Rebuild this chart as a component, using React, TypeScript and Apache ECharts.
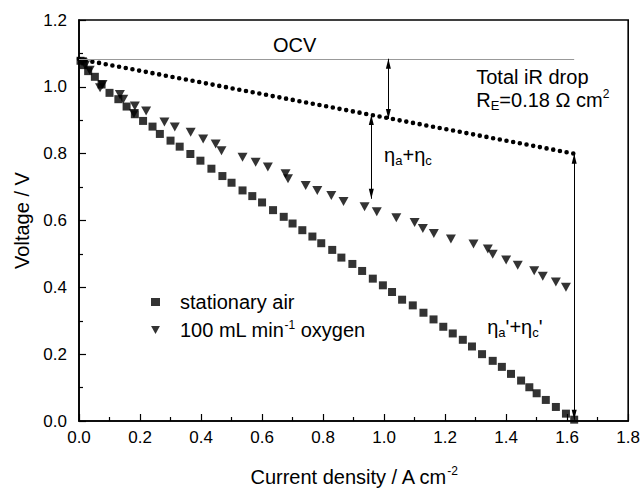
import React, { useEffect, useRef } from "react";
import * as echarts from "echarts";

// Stationary air (squares)
const airCurrent = [0.005, 0.015, 0.03, 0.052, 0.074, 0.1, 0.129, 0.156, 0.183, 0.21, 0.241, 0.265, 0.3, 0.33, 0.365, 0.398, 0.434, 0.47, 0.5, 0.536, 0.568, 0.6, 0.636, 0.671, 0.7, 0.732, 0.765, 0.794, 0.83, 0.86, 0.896, 0.928, 0.963, 0.996, 1.026, 1.059, 1.094, 1.129, 1.162, 1.194, 1.225, 1.258, 1.288, 1.321, 1.356, 1.386, 1.416, 1.449, 1.476, 1.5, 1.53, 1.563, 1.596, 1.623];
const airVoltage = [1.078, 1.065, 1.047, 1.03, 1.007, 0.982, 0.963, 0.941, 0.918, 0.898, 0.881, 0.859, 0.839, 0.821, 0.799, 0.779, 0.755, 0.733, 0.713, 0.69, 0.673, 0.654, 0.631, 0.611, 0.591, 0.571, 0.552, 0.532, 0.512, 0.489, 0.47, 0.449, 0.426, 0.406, 0.386, 0.363, 0.346, 0.324, 0.304, 0.282, 0.262, 0.243, 0.223, 0.2, 0.18, 0.162, 0.141, 0.121, 0.101, 0.083, 0.063, 0.042, 0.022, 0.004];

// 100 mL/min oxygen (down triangles)
const oxyCurrent = [0.01, 0.02, 0.035, 0.069, 0.077, 0.134, 0.145, 0.18, 0.183, 0.22, 0.28, 0.314, 0.366, 0.407, 0.448, 0.467, 0.536, 0.579, 0.619, 0.677, 0.685, 0.743, 0.781, 0.827, 0.867, 0.936, 0.976, 1.04, 1.1, 1.127, 1.163, 1.219, 1.293, 1.34, 1.356, 1.4, 1.438, 1.492, 1.52, 1.563, 1.596];
const oxyVoltage = [1.075, 1.065, 1.05, 0.997, 1.007, 0.977, 0.963, 0.92, 0.943, 0.928, 0.895, 0.88, 0.864, 0.844, 0.829, 0.809, 0.789, 0.774, 0.76, 0.74, 0.725, 0.705, 0.69, 0.675, 0.657, 0.641, 0.626, 0.608, 0.594, 0.576, 0.561, 0.545, 0.53, 0.515, 0.499, 0.482, 0.466, 0.45, 0.433, 0.416, 0.4];

// iR-drop line (dotted) endpoints
const irCurrent = [0, 1.623];
const irVoltage = [1.083, 0.8];

const ocvVoltage = 1.084;
const ocvEnd = 1.623;

// Annotation arrows: [x, yFrom, yTo]
const arrowIR = [1.014, 1.084, 0.904];
const arrowAct = [0.958, 0.916, 0.665];
const arrowAct2 = [1.623, 0.8, 0.004];

const airName = "stationary air";
const oxyName = "100 mL min-1 oxygen";

const FONT = "Arial, 'Liberation Sans', Helvetica, sans-serif";

export default function App() {
  const ref = useRef<HTMLDivElement>(null);
  useEffect(() => {
    document.body.style.margin = "0";
    document.body.style.overflow = "hidden";
    const chart = echarts.init(ref.current!, null, { renderer: "svg" });
    const arrowPair = (a: number[]) => [
      { coord: [a[0], a[1]] },
      { coord: [a[0], a[2]] },
    ];
    const richMain = { fontSize: 20, fontFamily: FONT, color: "#000", lineHeight: 24 };
    const richSub = { fontSize: 13, fontFamily: FONT, color: "#000", lineHeight: 8, verticalAlign: "bottom" };
    const richSup = { fontSize: 12, fontFamily: FONT, color: "#000", lineHeight: 12, verticalAlign: "top" };

    chart.setOption({
      animation: false,
      backgroundColor: "#fff",
      textStyle: { fontFamily: FONT, color: "#000" },
      grid: {
        left: 79, top: 20, right: 14, bottom: 68,
        show: true, borderColor: "#000", borderWidth: 1.6,
      },
      xAxis: {
        type: "value", min: 0, max: 1.8, interval: 0.2,
        name: "{m|Current density / A cm}{s|-2}",
        nameLocation: "middle", nameGap: 44,
        nameTextStyle: { rich: { m: richMain, s: richSup } },
        axisLine: { lineStyle: { color: "#000", width: 1.6 } },
        axisTick: { inside: true, length: 7, lineStyle: { color: "#000", width: 1.2 } },
        minorTick: { show: true, splitNumber: 2, length: 4, lineStyle: { color: "#000", width: 1.2 } },
        axisLabel: { fontSize: 17, color: "#000", margin: 8, fontFamily: FONT, formatter: (v: number) => v.toFixed(1) },
        splitLine: { show: false },
      },
      yAxis: {
        type: "value", min: 0, max: 1.2, interval: 0.2,
        name: "Voltage / V",
        nameLocation: "middle", nameGap: 47,
        nameTextStyle: { fontSize: 20, color: "#000", fontFamily: FONT },
        axisLine: { show: true, lineStyle: { color: "#000", width: 1.6 } },
        axisTick: { show: true, inside: true, length: 7, lineStyle: { color: "#000", width: 1.2 } },
        minorTick: { show: true, splitNumber: 2, length: 4, lineStyle: { color: "#000", width: 1.2 } },
        axisLabel: { fontSize: 17, color: "#000", margin: 12, fontFamily: FONT, formatter: (v: number) => v.toFixed(1) },
        splitLine: { show: false },
      },
      legend: {
        orient: "vertical", left: 146, top: 287,
        itemWidth: 9, itemHeight: 8, itemGap: 7,
        selectedMode: false,
        data: [
          { name: airName, icon: "rect" },
          { name: oxyName, icon: "path://M0 0L10 0L5 9Z" },
        ],
        formatter: (name: string) =>
          name === oxyName ? "{f|100 mL min}{s|-1}{m| oxygen}" : "{f|stationary air}",
        textStyle: {
          fontSize: 20, color: "#000",
          rich: { m: { ...richMain, lineHeight: 22 }, f: { ...richMain, lineHeight: 22, padding: [0, 0, 0, 15] }, s: richSup },
        },
      },
      series: [
        {
          name: airName, type: "scatter", symbol: "rect", symbolSize: 8,
          itemStyle: { color: "#000" }, z: 4,
          data: airCurrent.map((x, i) => [x, airVoltage[i]]),
          markLine: {
            silent: true, symbol: ["none", "none"], label: { show: false },
            lineStyle: { color: "#999", width: 1, type: "solid" },
            emphasis: { disabled: true },
            data: [[{ coord: [0, ocvVoltage] }, { coord: [ocvEnd, ocvVoltage] }]],
          },
        },
        {
          name: oxyName, type: "scatter", symbol: "triangle", symbolRotate: 180, symbolSize: [10, 9],
          itemStyle: { color: "#000" }, z: 4,
          data: oxyCurrent.map((x, i) => [x, oxyVoltage[i]]),
        },
        {
          name: "iR", type: "line", symbol: "none", silent: true, z: 3,
          lineStyle: { color: "#000", width: 4.6, type: [0, 6.8], cap: "round" },
          data: irCurrent.map((x, i) => [x, irVoltage[i]]),
          markLine: {
            silent: true, symbol: ["triangle", "triangle"], symbolSize: [5, 10],
            symbolOffset: [[0, 5], [0, 5]],
            label: { show: false },
            lineStyle: { color: "#000", width: 1, type: "solid" },
            emphasis: { disabled: true },
            data: [arrowPair(arrowIR), arrowPair(arrowAct), arrowPair(arrowAct2)],
          },
        },
      ],
    });

    const px = (x: number, y: number) => chart.convertToPixel({ gridIndex: 0 }, [x, y]) as number[];
    const texts: { at: number[]; text: string; align: string }[] = [
      { at: [0.707, 1.126], text: "{m|OCV}", align: "center" },
      { at: [1.302, 1.028], text: "{m|Total iR drop}", align: "left" },
      { at: [1.302, 0.962], text: "{m|R}{b|E}{m|=0.18 Ω cm}{p|2}", align: "left" },
      { at: [1.0, 0.795], text: "{m|η}{b|a}{m|+η}{b|c}", align: "left" },
      { at: [1.338, 0.28], text: "{m|η}{b|a}{m|'+η}{b|c}{m|'}", align: "left" },
    ];
    chart.setOption({
      graphic: texts.map((t) => {
        const p = px(t.at[0], t.at[1]);
        return {
          type: "text", x: p[0], y: p[1], silent: true, z: 10,
          style: {
            text: t.text, align: t.align, verticalAlign: "middle",
            fill: "#000", font: `20px ${FONT}`,
            rich: { m: richMain, b: richSub, p: richSup },
          },
        };
      }),
    });
    return () => chart.dispose();
  }, []);
  return <div ref={ref} style={{ width: 643, height: 492 }} />;
}
